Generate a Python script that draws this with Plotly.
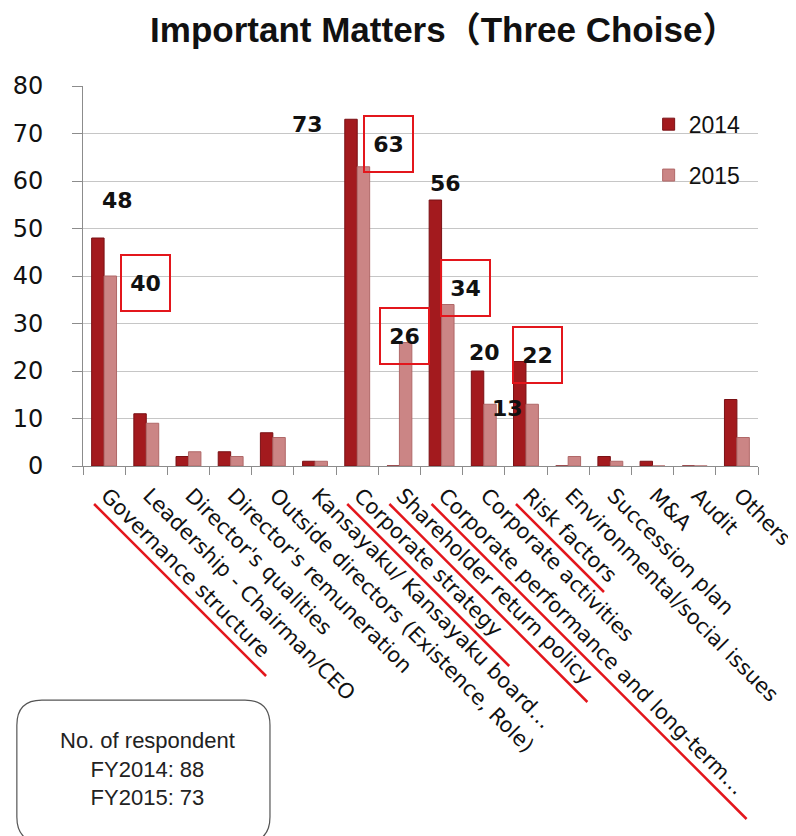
"""Important Matters (Three Choise) - grouped bar chart, FY2014 vs FY2015."""
import plotly.graph_objects as go

CATEGORIES = [
    "Governance structure",
    "Leadership - Chairman/CEO",
    "Director's qualities",
    "Director's remuneration",
    "Outside directors (Existence, Role)",
    "Kansayaku/ Kansayaku board…",
    "Corporate strategy",
    "Shareholder return policy",
    "Corporate performance and long-term…",
    "Corporate activities",
    "Risk factors",
    "Environmental/social issues",
    "Succession plan",
    "M&A",
    "Audit",
    "Others",
]
FY2014 = [48, 11, 2, 3, 7, 1, 73, 0, 56, 20, 22, 0, 2, 1, 0, 14]
FY2015 = [40, 9, 3, 2, 6, 1, 63, 26, 34, 13, 13, 2, 1, 0, 0, 6]
RESPONDENTS = {"FY2014": 88, "FY2015": 73}

# labelled bars (category index) and which labels get a red box
LABELS_2014 = [0, 6, 8, 9, 10]
LABELS_2015 = [0, 6, 7, 8, 9]
BOXED_2014 = [10]
BOXED_2015 = [0, 6, 7, 8]
UNDERLINED = [0, 6, 7, 8, 10]

DARK = "#a31a1e"
LIGHT = "#cb8585"
RED = "#e3161c"
TEXT = "#111111"

fig = go.Figure()
fig.add_bar(x=CATEGORIES, y=FY2014, name="2014", marker=dict(color=DARK, line=dict(color="#7a1115", width=1)),
            legendgroup="a")
fig.add_bar(x=CATEGORIES, y=FY2015, name="2015", marker=dict(color=LIGHT, line=dict(color="#b06868", width=1)),
            legendgroup="b")

# label placement: (pixel shift along x, y position in data units)
pos_2014 = {0: (13, 55.8), 6: (-50, 71.8), 8: (4, 59.4), 9: (1, 23.8), 10: (12, 23.4)}
pos_2015 = {0: (41, 38.6), 6: (31, 67.8), 7: (5, 27.4), 8: (24, 37.5), 9: (24, 12.2)}

label_font = dict(family="DejaVu Sans", size=22, color=TEXT)
box = dict(bordercolor=RED, borderwidth=2, borderpad=0, width=47, height=54)


def add_labels(values, idx, pos, boxed):
    for i in idx:
        dx, y = pos[i]
        kw = box if i in boxed else {}
        fig.add_annotation(x=CATEGORIES[i], y=y, xshift=dx, text=f"<b>{values[i]}</b>",
                           showarrow=False, font=label_font, **kw)


add_labels(FY2014, LABELS_2014, pos_2014, BOXED_2014)
add_labels(FY2015, LABELS_2015, pos_2015, BOXED_2015)

# red underlines beneath selected x labels (anchored at category, pixel offsets below the axis)
underline_len = {0: 172, 6: 162, 7: 198, 8: 315, 10: 88}
for i in UNDERLINED:
    L = underline_len[i]
    fig.add_shape(type="line", xref="x", yref="paper", xsizemode="pixel", ysizemode="pixel",
                  xanchor=i, yanchor=0, x0=-10, y0=-38, x1=-10 + L, y1=-38 - L,
                  line=dict(color=RED, width=2.5))

# respondent box (rounded), paper coords
x0, x1, yt, yb = -0.098, 0.277, -0.616, -0.99
rx, ry = 0.037, 0.066
fig.add_shape(type="path", xref="paper", yref="paper",
              path=(f"M {x0},{yb + ry} L {x0},{yt - ry} Q {x0},{yt} {x0 + rx},{yt} "
                    f"L {x1 - rx},{yt} Q {x1},{yt} {x1},{yt - ry} L {x1},{yb + ry} "
                    f"Q {x1},{yb} {x1 - rx},{yb} L {x0 + rx},{yb} Q {x0},{yb} {x0},{yb + ry} Z"),
              line=dict(color="#555555", width=1.2), fillcolor="rgba(0,0,0,0)")
fig.add_annotation(xref="paper", yref="paper", x=0.095, y=-0.797, xanchor="center", yanchor="middle",
                   showarrow=False, align="center",
                   text="No. of respondent<br>" + "<br>".join(f"{k}: {v}" for k, v in RESPONDENTS.items()),
                   font=dict(family="Liberation Sans", size=22, color="#222222"))

fig.update_layout(
    width=788, height=828,
    paper_bgcolor="white", plot_bgcolor="white",
    margin=dict(l=75, r=38, t=78, b=370),
    bargap=0.41, bargroupgap=0,
    title=dict(text="<b>Important Matters（Three Choise）</b>", x=0.553, xref="container", xanchor="center",
               y=0.974, yref="container", yanchor="middle",
               font=dict(family="Liberation Sans, Noto Sans CJK JP", size=35, color=TEXT)),
    legend=dict(x=0.838, y=0.956, xanchor="left", yanchor="top", bgcolor="rgba(0,0,0,0)",
                font=dict(family="Liberation Sans", size=23, color=TEXT), tracegroupgap=18,
                traceorder="grouped", itemwidth=30),
    showlegend=True,
    hovermode=False,
)
fig.update_yaxes(range=[0, 80], dtick=10, showgrid=True, gridcolor="#c6c6c6", gridwidth=1, zeroline=False,
                 showline=True, linecolor="#8c8c8c", ticks="outside", ticklen=10, tickcolor="#8c8c8c",
                 automargin=False, ticklabelstandoff=24,
                 tickfont=dict(family="DejaVu Sans", size=24, color=TEXT))
fig.update_xaxes(type="category", showline=True, linecolor="#8c8c8c", ticks="outside", ticklen=8,
                 tickcolor="#8c8c8c", tickson="boundaries", tickangle=45, automargin=False,
                 ticklabelstandoff=8, ticklabelshift=3,
                 tickfont=dict(family="DejaVu Sans", size=21, color=TEXT))

fig.write_html("out.html")
